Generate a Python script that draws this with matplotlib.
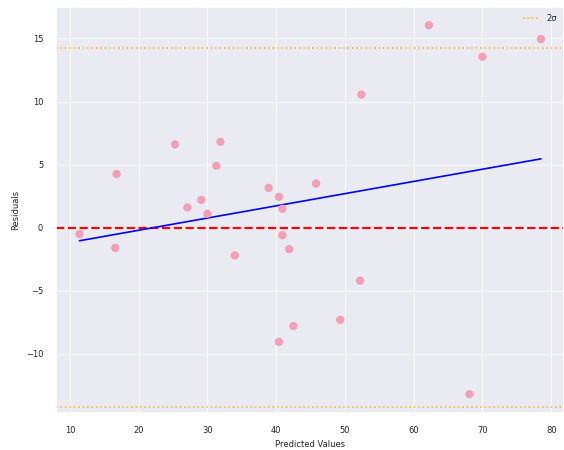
import numpy as np
import matplotlib.pyplot as plt
import seaborn as sns

sns.set_theme(style="darkgrid")

predicted = [11.4, 16.8, 16.6, 25.3, 27.1, 29.1, 30.0, 31.3, 31.9, 34.0,
             38.9, 40.4, 40.9, 40.9, 41.9, 45.8, 40.4, 42.5, 49.3, 52.2,
             52.4, 62.2, 70.0, 68.1, 78.5]
residuals = [-0.5, 4.25, -1.6, 6.6, 1.6, 2.2, 1.1, 4.9, 6.8, -2.2,
             3.15, 2.45, 1.5, -0.6, -1.7, 3.5, -9.05, -7.8, -7.3, -4.2,
             10.55, 16.05, 13.55, -13.2, 14.95]

x = np.array(predicted)
y = np.array(residuals)
sigma = np.std(y)
slope, intercept = np.polyfit(x, y, 1)

fig, ax = plt.subplots(figsize=(5.64, 4.5), dpi=100)
ax.grid(linewidth=0.6)
ax.scatter(x, y, s=36, color="#f4a0b4", edgecolors="none", zorder=3)
ax.axhline(0, color="red", linestyle="--", linewidth=1.6)
xs = np.sort(x)
ax.plot(xs, slope * xs + intercept, color="blue", linewidth=1.2)
ax.axhline(2 * sigma, color="orange", linestyle=":", linewidth=1.2, alpha=0.7, label="2σ")
ax.axhline(-2 * sigma, color="orange", linestyle=":", linewidth=1.2, alpha=0.7)

ax.set_xlabel("Predicted Values", fontsize=6)
ax.set_ylabel("Residuals", fontsize=6)
ax.tick_params(labelsize=6)
ax.legend(loc="upper right", fontsize=6, frameon=False)

fig.subplots_adjust(left=0.10, right=1.0, top=0.985, bottom=0.083)
fig.savefig("out.png", dpi=100)
